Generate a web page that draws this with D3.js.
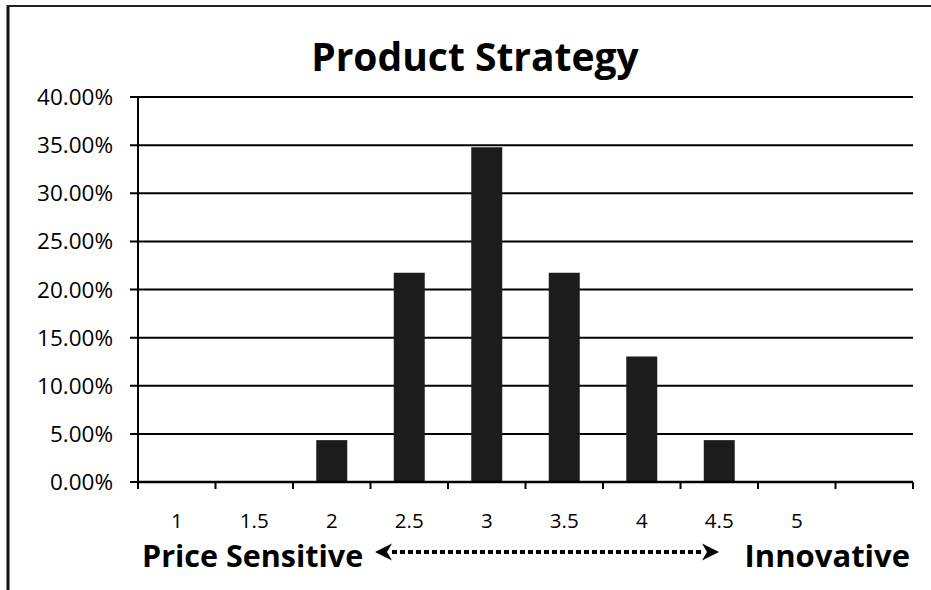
<!DOCTYPE html>
<html><head><meta charset="utf-8">
<script src="https://cdn.jsdelivr.net/npm/d3@7"></script>
<style>body{margin:0;background:#fff}svg{display:block}</style>
</head><body>
<svg id="c" width="931" height="590"></svg>
<script>
const title = "Product Strategy";
const categories = ["1","1.5","2","2.5","3","3.5","4","4.5","5",""];
const values = [0, 0, 4.35, 21.74, 34.78, 21.74, 13.04, 4.35, 0, 0];
const yTicks = [0,5,10,15,20,25,30,35,40];
const leftLabel = "Price Sensitive";
const rightLabel = "Innovative";

const svg = d3.select("#c");
const F = "'Open Sans', 'Liberation Sans', sans-serif";
const L = 138, R = 913, T = 97, B = 482;

// frame
svg.append("line").attr("x1",8).attr("x2",8).attr("y1",5).attr("y2",590).attr("stroke","#111").attr("stroke-width",3);
svg.append("line").attr("x1",7).attr("x2",931).attr("y1",6).attr("y2",6).attr("stroke","#222").attr("stroke-width",2);

const x = d3.scaleBand().domain(d3.range(categories.length)).range([L,R]).paddingInner(0.6).paddingOuter(0.3);
const y = d3.scaleLinear().domain([0,40]).range([B,T]);
const step = x.step();

// gridlines + left ticks
svg.append("g").selectAll("line").data(yTicks).join("line")
  .attr("x1",L-8).attr("x2",R).attr("y1",d=>y(d)).attr("y2",d=>y(d))
  .attr("stroke","#000").attr("stroke-width",2);
svg.append("g").selectAll("text").data(yTicks).join("text")
  .attr("x",113).attr("y",d=>y(d)).attr("dy","0.36em").attr("text-anchor","end")
  .attr("font-family",F).attr("font-size",22.5).attr("fill","#000")
  .text(d=>d3.format(".2f")(d)+"%");

// y axis line
svg.append("line").attr("x1",L).attr("x2",L).attr("y1",T).attr("y2",B).attr("stroke","#000").attr("stroke-width",2);

// bars
svg.append("g").selectAll("rect").data(values).join("rect")
  .attr("x",(d,i)=>x(i)).attr("width",x.bandwidth())
  .attr("y",d=>y(d)).attr("height",d=>y(0)-y(d))
  .attr("fill","#1c1c1c");

// x axis
svg.append("line").attr("x1",L).attr("x2",R).attr("y1",B).attr("y2",B).attr("stroke","#000").attr("stroke-width",2.5);
const bounds = d3.range(categories.length+1).map(i=>L+i*step);
svg.append("g").selectAll("line").data(bounds).join("line")
  .attr("x1",d=>d).attr("x2",d=>d).attr("y1",B).attr("y2",B+7)
  .attr("stroke","#000").attr("stroke-width",2);
svg.append("g").selectAll("text").data(categories).join("text")
  .attr("x",(d,i)=>x(i)+x.bandwidth()/2).attr("y",528).attr("text-anchor","middle")
  .attr("font-family",F).attr("font-size",20.5).attr("fill","#000").text(d=>d);

// title
svg.append("text").attr("x",475).attr("y",71).attr("text-anchor","middle")
  .attr("font-family",F).attr("font-weight","bold").attr("font-size",39).attr("fill","#000").text(title);

// bottom labels
svg.append("text").attr("x",142).attr("y",567).attr("font-family",F).attr("font-weight","bold")
  .attr("font-size",30.5).attr("fill","#000").text(leftLabel);
svg.append("text").attr("x",910).attr("y",567).attr("text-anchor","end").attr("font-family",F).attr("font-weight","bold")
  .attr("font-size",31).attr("fill","#000").text(rightLabel);

// dotted double arrow
const ay = 552;
svg.append("line").attr("x1",392).attr("x2",702).attr("y1",ay).attr("y2",ay)
  .attr("stroke","#000").attr("stroke-width",4).attr("stroke-dasharray","5,3");
svg.append("path").attr("d",`M375,${ay} L392,${ay-8.5} L387,${ay} L392,${ay+8.5} Z`).attr("fill","#000");
svg.append("path").attr("d",`M719,${ay} L702,${ay-8.5} L707,${ay} L702,${ay+8.5} Z`).attr("fill","#000");
</script>
</body></html>
